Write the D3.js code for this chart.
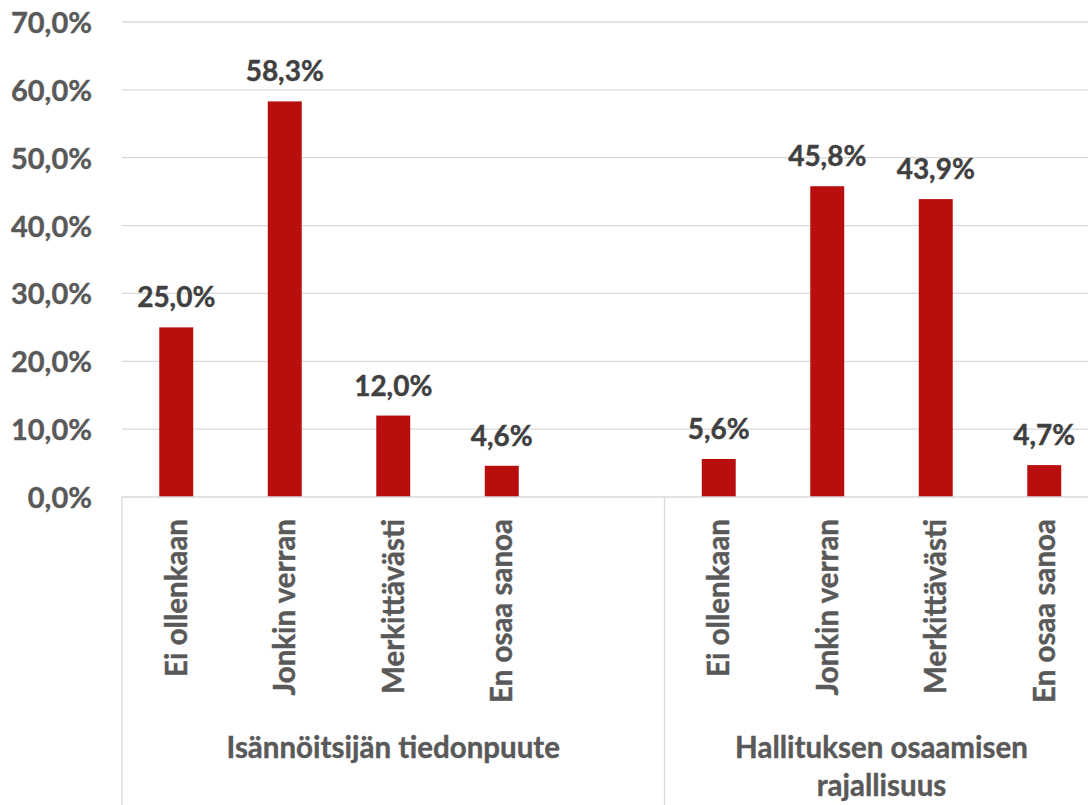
<!DOCTYPE html>
<html>
<head>
<meta charset="utf-8">
<script src="https://cdn.jsdelivr.net/npm/d3@7"></script>
<style>
  html, body { margin: 0; padding: 0; background: #fff; }
  svg { display: block; }
  text { font-family: Lato, "Open Sans", sans-serif; font-weight: 700; }
</style>
</head>
<body>
<div id="chart"></div>
<script>
// ---- data ----
const groups = ["Isännöitsijän tiedonpuute", "Hallituksen osaamisen rajallisuus"];
const groupLines = [["Isännöitsijän tiedonpuute"], ["Hallituksen osaamisen", "rajallisuus"]];
const categories = ["Ei ollenkaan", "Jonkin verran", "Merkittävästi", "En osaa sanoa"];
const valuesGroup1 = [25.0, 58.3, 12.0, 4.6];
const valuesGroup2 = [5.6, 45.8, 43.9, 4.7];
const yTicks = [0, 10, 20, 30, 40, 50, 60, 70];

// slots: group1 categories, empty slot, group2 categories
const slots = [];
categories.forEach((c, i) => slots.push({ key: "g1-" + i, cat: c, value: valuesGroup1[i], group: 0 }));
slots.push({ key: "gap", cat: "", value: null, group: 0 });
categories.forEach((c, i) => slots.push({ key: "g2-" + i, cat: c, value: valuesGroup2[i], group: 1 }));

const W = 1088, H = 805;
const mLeft = 122, mRight = 1098.5, mTop = 22, mBottom = 497;

const svg = d3.select("#chart").append("svg").attr("width", W).attr("height", H);

const x = d3.scaleBand().domain(slots.map(d => d.key)).range([mLeft, mRight]).paddingInner(0.687).paddingOuter(0.3435);
const y = d3.scaleLinear().domain([0, 70]).range([mBottom, mTop]);

const fmt = v => d3.format(".1f")(v).replace(".", ",") + "%";

// gridlines
svg.append("g").selectAll("line").data(yTicks.filter(t => t > 0)).join("line")
  .attr("x1", mLeft).attr("x2", W).attr("y1", d => y(d)).attr("y2", d => y(d))
  .attr("stroke", "#d9d9d9").attr("stroke-width", 1.3);

// y axis labels
const yAxis = d3.axisLeft(y).tickValues(yTicks).tickFormat(fmt).tickSize(0).tickPadding(0);
const yg = svg.append("g").attr("transform", "translate(92,0)").call(yAxis);
yg.select(".domain").remove();
yg.selectAll("text").attr("fill", "#595959").style("font-size", "29px").style("font-family", "Lato, 'Open Sans', sans-serif").style("font-weight", 700)
  .attr("stroke", "#595959").attr("stroke-width", 0.4).attr("dy", "0.36em");

// bars
const barData = slots.filter(d => d.value !== null);
svg.append("g").selectAll("rect").data(barData).join("rect")
  .attr("x", d => x(d.key)).attr("width", x.bandwidth())
  .attr("y", d => y(d.value)).attr("height", d => y(0) - y(d.value))
  .attr("fill", "#b90e0e");

// data labels
svg.append("g").selectAll("text").data(barData).join("text")
  .attr("x", d => x(d.key) + x.bandwidth() / 2)
  .attr("y", d => y(d.value) - 20)
  .attr("text-anchor", "middle")
  .attr("fill", "#404040").attr("stroke", "#404040").attr("stroke-width", 0.4)
  .style("font-size", "28px")
  .text(d => fmt(d.value));

// x axis baseline
svg.append("line").attr("x1", mLeft).attr("x2", W).attr("y1", y(0)).attr("y2", y(0))
  .attr("stroke", "#d9d9d9").attr("stroke-width", 1.3);

// group separators
const step = x.step();
const sepX = [mLeft, mLeft + 5 * step];
svg.append("g").selectAll("line").data(sepX).join("line")
  .attr("x1", d => d).attr("x2", d => d).attr("y1", y(0)).attr("y2", H)
  .attr("stroke", "#d9d9d9").attr("stroke-width", 1.3);

// category labels (rotated)
svg.append("g").selectAll("text").data(barData).join("text")
  .attr("transform", d => `translate(${x(d.key) + x.bandwidth() / 2},519) rotate(-90)`)
  .attr("text-anchor", "end").attr("dy", "0.36em")
  .attr("fill", "#595959").attr("stroke", "#595959").attr("stroke-width", 0.4)
  .style("font-size", "29.5px")
  .text(d => d.cat);

// group labels
const groupCenters = [(mLeft + sepX[1]) / 2, (sepX[1] + mRight) / 2];
groupLines.forEach((lines, gi) => {
  const t = svg.append("text").attr("text-anchor", "middle")
    .attr("fill", "#595959").attr("stroke", "#595959").attr("stroke-width", 0.4)
    .style("font-size", "29.5px");
  lines.forEach((ln, li) => {
    t.append("tspan").attr("x", groupCenters[gi]).attr("y", 758 + li * 38).text(ln);
  });
});
</script>
</body>
</html>
